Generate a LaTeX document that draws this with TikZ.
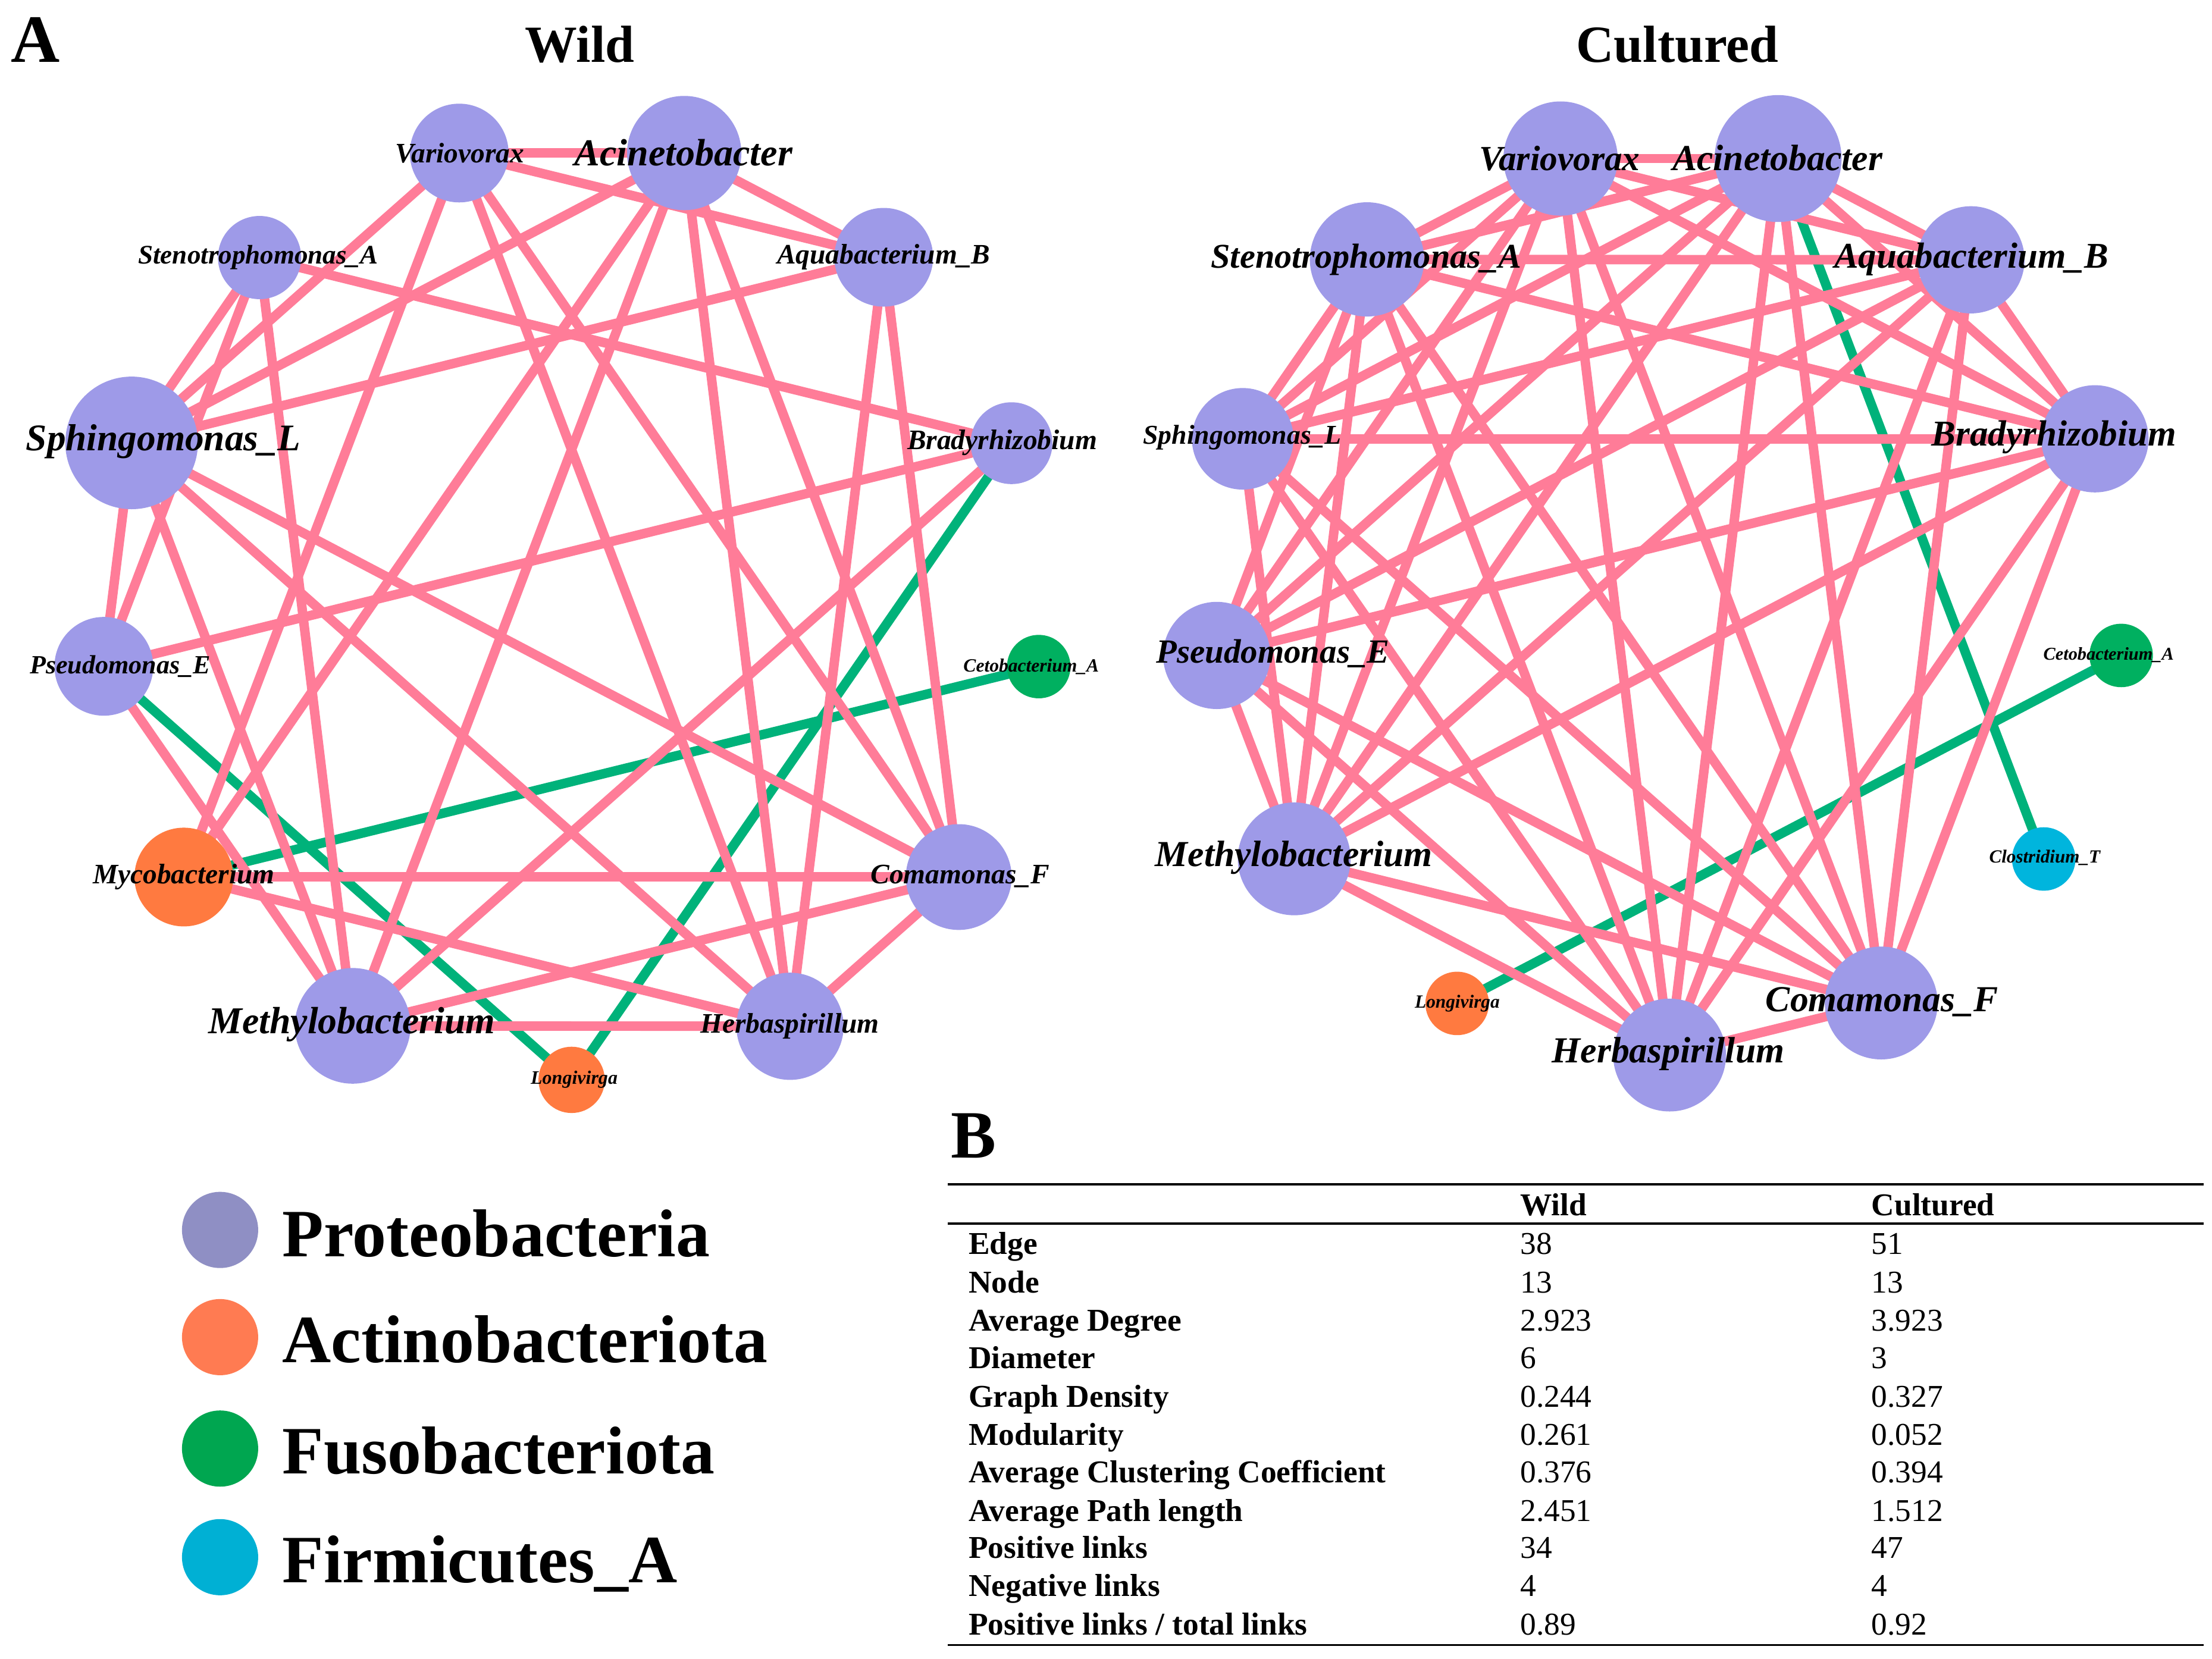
\documentclass[tikz,border=0pt]{standalone}
\usepackage{fontspec}
\setmainfont{Liberation Serif}
\definecolor{purp}{RGB}{158,154,232}
\definecolor{orng}{RGB}{255,122,64}
\definecolor{grn}{RGB}{0,176,96}
\definecolor{cyn}{RGB}{0,181,221}
\definecolor{pinkedge}{RGB}{255,124,152}
\definecolor{greenedge}{RGB}{0,178,122}
\definecolor{lgpro}{RGB}{143,143,196}
\definecolor{lgact}{RGB}{255,123,82}
\definecolor{lgfus}{RGB}{0,166,80}
\definecolor{lgfir}{RGB}{0,176,212}
\newcommand\fsz[1]{\fontsize{#1}{#1}\selectfont}
\pgfdeclarelayer{edgelayer}
\pgfsetlayers{edgelayer,main}
\tikzset{
  bubble/.style={circle, inner sep=0pt, draw=none, minimum size=#1},
  poslink/.style={draw=pinkedge, line width=6.7pt},
  neglink/.style={draw=greenedge, line width=6.7pt},
  taxlab/.style={anchor=base, inner sep=0pt, font=\fsz{#1}\bfseries\itshape},
  legtxt/.style={anchor=base west, inner sep=0pt, font=\fsz{48}\bfseries},
  rowlab/.style={anchor=base west, inner sep=0pt, font=\fsz{22.5}\bfseries},
  rowval/.style={anchor=base west, inner sep=0pt, font=\fsz{22.5}},
  rulestyle/.style={line width=1.5pt, draw=black}
}
\begin{document}
\begin{tikzpicture}[x=1pt,y=-1pt]
\useasboundingbox (0,0) rectangle (1568,1176);

% ---------- Wild nodes ----------
\node[bubble=70pt,fill=purp] (wV) at (325.5,108.5) {};
\node[bubble=81pt,fill=purp] (wAc) at (485,108.5) {};
\node[bubble=59pt,fill=purp] (wSt) at (184,182.6) {};
\node[bubble=70pt,fill=purp] (wAq) at (626.4,182.4) {};
\node[bubble=94pt,fill=purp] (wSp) at (93.3,314) {};
\node[bubble=58pt,fill=purp] (wBr) at (717,314.2) {};
\node[bubble=70pt,fill=purp] (wPs) at (73.6,472.4) {};
\node[bubble=45pt,fill=grn] (wCe) at (736.3,472.6) {};
\node[bubble=70pt,fill=orng] (wMy) at (130.3,621.8) {};
\node[bubble=75pt,fill=purp] (wCo) at (679.6,621.8) {};
\node[bubble=82pt,fill=purp] (wMe) at (250,727.3) {};
\node[bubble=76pt,fill=purp] (wHe) at (560,727.6) {};
\node[bubble=47pt,fill=orng] (wLo) at (405.2,765.6) {};

% ---------- Cultured nodes ----------
\node[bubble=81pt,fill=purp] (cV) at (1106.2,112.4) {};
\node[bubble=90pt,fill=purp] (cAc) at (1260.4,112.4) {};
\node[bubble=81pt,fill=purp] (cSt) at (969,183.9) {};
\node[bubble=76pt,fill=purp] (cAq) at (1397.1,184.2) {};
\node[bubble=72pt,fill=purp] (cSp) at (880.9,311.1) {};
\node[bubble=76pt,fill=purp] (cBr) at (1485,311.1) {};
\node[bubble=76pt,fill=purp] (cPs) at (862.5,464.7) {};
\node[bubble=45pt,fill=grn] (cCe) at (1503.6,464.7) {};
\node[bubble=80pt,fill=purp] (cMe) at (917.4,608.9) {};
\node[bubble=45pt,fill=cyn] (cCl) at (1448.7,609) {};
\node[bubble=45pt,fill=orng] (cLo) at (1032.9,711.4) {};
\node[bubble=80pt,fill=purp] (cCo) at (1333.5,711.1) {};
\node[bubble=80pt,fill=purp] (cHe) at (1183.5,748) {};

% ---------- edges (behind nodes) ----------
\begin{pgfonlayer}{edgelayer}
\foreach \a/\b in {wBr/wLo, wPs/wLo, wMy/wCe}
  { \draw[neglink] (\a.center) -- (\b.center); }
\foreach \a/\b in {wV/wAc, wV/wAq, wV/wSp, wV/wMy, wV/wHe, wV/wCo,
  wAc/wAq, wAc/wSp, wAc/wMy, wAc/wMe, wAc/wHe, wAc/wCo,
  wSt/wSp, wSt/wPs, wSt/wMe, wSt/wBr,
  wAq/wSp, wAq/wHe, wAq/wCo,
  wSp/wPs, wSp/wMe, wSp/wHe, wSp/wCo,
  wBr/wPs, wBr/wMe, wPs/wMe,
  wMy/wCo, wMy/wHe, wCo/wMe, wCo/wHe, wMe/wHe}
  { \draw[poslink] (\a.center) -- (\b.center); }
% cultured: all pairs of the ten Proteobacteria except Sphingomonas--Pseudomonas
\foreach \a/\b in {cAc/cCl, cLo/cCe}
  { \draw[neglink] (\a.center) -- (\b.center); }
\foreach \a/\b in {cV/cAc, cV/cSt, cV/cAq, cV/cSp, cV/cBr, cV/cPs, cV/cMe, cV/cHe, cV/cCo,
  cAc/cSt, cAc/cAq, cAc/cSp, cAc/cBr, cAc/cPs, cAc/cMe, cAc/cHe, cAc/cCo,
  cSt/cAq, cSt/cSp, cSt/cBr, cSt/cPs, cSt/cMe, cSt/cHe, cSt/cCo,
  cAq/cSp, cAq/cBr, cAq/cPs, cAq/cMe, cAq/cHe, cAq/cCo,
  cSp/cBr, cSp/cMe, cSp/cHe, cSp/cCo,
  cBr/cPs, cBr/cMe, cBr/cHe, cBr/cCo,
  cPs/cMe, cPs/cHe, cPs/cCo,
  cMe/cHe, cMe/cCo, cHe/cCo}
  { \draw[poslink] (\a.center) -- (\b.center); }
\end{pgfonlayer}

% ---------- Labels ----------
\node[taxlab=20] (wVl) at (326,115.2) {Variovorax};
\node[taxlab=27] (wAcl) at (484.5,117.5) {Acinetobacter};
\node[taxlab=19] (wStl) at (183,187.2) {Stenotrophomonas\_A};
\node[taxlab=20] (wAql) at (626.4,187.2) {Aquabacterium\_B};
\node[taxlab=26.7] (wSpl) at (115.7,319.6) {Sphingomonas\_L};
\node[taxlab=20] (wBrl) at (710.4,318.8) {Bradyrhizobium};
\node[taxlab=18.6] (wPsl) at (85.2,477.5) {Pseudomonas\_E};
\node[taxlab=13.3] (wCel) at (731,476.3) {Cetobacterium\_A};
\node[taxlab=20] (wMyl) at (130.3,626.4) {Mycobacterium};
\node[taxlab=20] (wCol) at (680.6,626.4) {Comamonas\_F};
\node[taxlab=26.9] (wMel) at (249.5,732.9) {Methylobacterium};
\node[taxlab=20] (wHel) at (559.8,732.2) {Herbaspirillum};
\node[taxlab=13.5] (wLol) at (407,768.5) {Longivirga};

\node[taxlab=25] (cVl) at (1105.5,120.8) {Variovorax};
\node[taxlab=26] (cAcl) at (1260,120.8) {Acinetobacter};
\node[taxlab=24.6] (cStl) at (968.5,189.8) {Stenotrophomonas\_A};
\node[taxlab=25.7] (cAql) at (1397.4,189.8) {Aquabacterium\_B};
\node[taxlab=19.3] (cSpl) at (880.6,315) {Sphingomonas\_L};
\node[taxlab=25.8] (cBrl) at (1456,316.2) {Bradyrhizobium};
\node[taxlab=24] (cPsl) at (902.3,470.2) {Pseudomonas\_E};
\node[taxlab=12.8] (cCel) at (1494.7,467.8) {Cetobacterium\_A};
\node[taxlab=26] (cMel) at (917.2,614.3) {Methylobacterium};
\node[taxlab=13.1] (cCll) at (1449.4,611.8) {Clostridium\_T};
\node[taxlab=13.2] (cLol) at (1033,714.7) {Longivirga};
\node[taxlab=26] (cCol) at (1334,717.2) {Comamonas\_F};
\node[taxlab=26] (cHel) at (1182.5,753.5) {Herbaspirillum};

% ---------- titles ----------
\node[anchor=base, inner sep=0pt, font=\fsz{48}\bfseries] (lblA) at (25,44) {A};
\node[anchor=base, inner sep=0pt, font=\fsz{37}\bfseries] (tWild) at (411,44) {Wild};
\node[anchor=base, inner sep=0pt, font=\fsz{37}\bfseries] (tCult) at (1189,44) {Cultured};
\node[anchor=base, inner sep=0pt, font=\fsz{48}\bfseries] (lblB) at (690,821) {B};

% ---------- legend ----------
\node[bubble=54pt,fill=lgpro] (lg1) at (156,872) {};
\node[bubble=54pt,fill=lgact] (lg2) at (156,948) {};
\node[bubble=54pt,fill=lgfus] (lg3) at (156,1027) {};
\node[bubble=54pt,fill=lgfir] (lg4) at (156,1104) {};
\node[legtxt] (lt1) at (200,891) {Proteobacteria};
\node[legtxt] (lt2) at (200,966) {Actinobacteriota};
\node[legtxt] (lt3) at (200,1045) {Fusobacteriota};
\node[legtxt] (lt4) at (200,1122) {Firmicutes\_A};

% ---------- table ----------
\coordinate (r1a) at (672,839.7); \coordinate (r1b) at (1562,839.7);
\coordinate (r2a) at (672,867.4); \coordinate (r2b) at (1562,867.4);
\coordinate (r3a) at (672,1166.3); \coordinate (r3b) at (1562,1166.3);
\draw[rulestyle] (r1a) -- (r1b);
\draw[rulestyle] (r2a) -- (r2b);
\draw[rulestyle] (r3a) -- (r3b);
\node[rowlab] (hW) at (1077.5,861.6) {Wild};
\node[rowlab] (hC) at (1326.5,861.6) {Cultured};
\foreach \nm/\lab/\wv/\cv/\yy in {
  e/{Edge}/38/51/889.4,
  n/{Node}/13/13/916.7,
  d/{Average Degree}/2.923/3.923/943.4,
  m/{Diameter}/6/3/970.3,
  g/{Graph Density}/0.244/0.327/997.5,
  o/{Modularity}/0.261/0.052/1024.6,
  c/{Average Clustering Coefficient}/0.376/0.394/1051.2,
  p/{Average Path length}/2.451/1.512/1078.4,
  q/{Positive links}/34/47/1104.9,
  r/{Negative links}/4/4/1131.9,
  s/{Positive links / total links}/0.89/0.92/1159.2}
{
  \node[rowlab] (tl\nm) at (686.5,\yy) {\lab};
  \node[rowval] (tw\nm) at (1077.5,\yy) {\wv};
  \node[rowval] (tc\nm) at (1326.5,\yy) {\cv};
}
\end{tikzpicture}
\end{document}
